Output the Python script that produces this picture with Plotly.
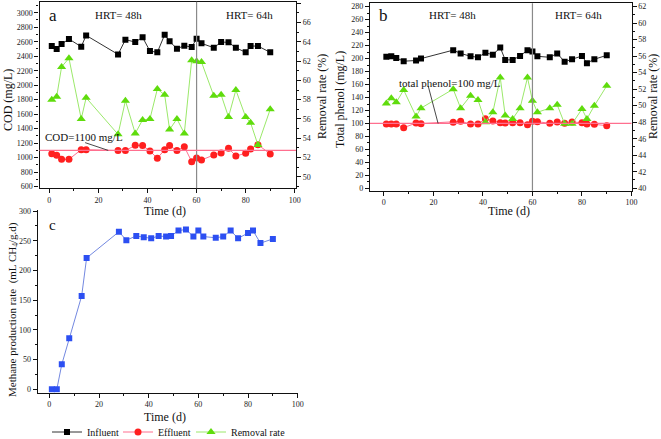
import plotly.graph_objects as go

# ---------------- data ----------------
days = [1, 3, 5, 8, 13, 15, 28, 31, 35, 38, 41, 44, 47, 49, 52, 55, 58, 60, 62,
        67, 70, 73, 76, 80, 82, 85, 90]

cod_influent = [2540, 2500, 2568, 2637, 2531, 2687, 2425, 2628, 2595, 2660, 2471,
                2453, 2697, 2605, 2503, 2545, 2526, 2641, 2577, 2517, 2595, 2591,
                2517, 2453, 2540, 2540, 2453]
cod_effluent = [1055, 1032, 977, 977, 1110, 1110, 1097, 1097, 1170, 1166, 1092,
                991, 1110, 1166, 1097, 1152, 945, 995, 968, 1037, 1064, 1129,
                1023, 1060, 1120, 1179, 1050]
cod_removal = [58.0, 58.3, 61.4, 62.3, 56.0, 58.2, 54.4, 57.9, 54.5, 55.9, 56.0,
               59.1, 58.5, 54.9, 56.0, 54.5, 62.1, 62.0, 61.9, 58.4, 58.5, 56.2,
               59.0, 56.2, 55.6, 53.3, 57.0]

ph_influent = [203, 203.5, 201, 196, 197, 200, 213, 208, 203.5, 202, 209, 206,
               217, 198, 198, 204, 213, 211, 203.5, 202, 208, 195, 199, 204, 193,
               199, 205]
ph_effluent = [99, 99, 99, 93.5, 100.7, 99.7, 101.7, 103.3, 99, 99, 107.4, 103.8,
               101.2, 100.7, 101.2, 101.2, 98.2, 103.3, 102.8, 100.2, 102.3, 100.2,
               102.3, 101.2, 99.2, 98.7, 96.6]
ph_removal = [50.25, 50.9, 50.4, 51.9, 48.7, 49.7, 52.0, 49.7, 51.2, 50.7, 48.0,
              49.2, 53.4, 48.8, 48.4, 49.7, 53.4, 50.6, 49.2, 49.7, 50.1, 47.8,
              47.8, 49.6, 48.4, 50.0, 52.4]

methane = [0, 0, 42, 86, 157, 221, 265, 251, 258, 256, 254, 258, 257, 258, 267,
           269, 257, 267, 257, 255, 257, 267, 254, 263, 267, 246, 253]

cod_target = 1100
phenol_target = 100
hrt_switch_day = 60

W, H = 661, 439
FONT = "Liberation Serif"


def px(x):
    return x / W


def py(y):
    return 1 - y / H


fig = go.Figure()

inf_style = dict(mode="lines+markers", line=dict(color="#333333", width=1),
                 marker=dict(symbol="square", size=6, color="#000000"))
eff_style = dict(mode="lines+markers", line=dict(color="#ff6f8f", width=1),
                 marker=dict(symbol="circle", size=7, color="#ff1f1f"))
rem_style = dict(mode="lines+markers", line=dict(color="#9be86a", width=1),
                 marker=dict(symbol="triangle-up", size=8, color="#5fdc0c"))

# panel a
fig.add_trace(go.Scatter(x=days, y=cod_influent, name="Influent", xaxis="x", yaxis="y",
                         legendwidth=26, **inf_style))
fig.add_trace(go.Scatter(x=days, y=cod_effluent, name="Effluent", xaxis="x", yaxis="y",
                         legendwidth=28, **eff_style))
fig.add_trace(go.Scatter(x=days, y=cod_removal, name="Removal rate", xaxis="x", yaxis="y2",
                         **rem_style))
# panel b
fig.add_trace(go.Scatter(x=days, y=ph_influent, showlegend=False, xaxis="x2", yaxis="y3", **inf_style))
fig.add_trace(go.Scatter(x=days, y=ph_effluent, showlegend=False, xaxis="x2", yaxis="y3", **eff_style))
fig.add_trace(go.Scatter(x=days, y=ph_removal, showlegend=False, xaxis="x2", yaxis="y4", **rem_style))
# panel c
fig.add_trace(go.Scatter(x=days, y=methane, showlegend=False, xaxis="x3", yaxis="y5",
                         mode="lines+markers", line=dict(color="#7388e0", width=1),
                         marker=dict(symbol="square", size=6, color="#2c4ff2")))

tickfont = dict(family=FONT, size=8, color="#222")
common = dict(showline=True, linecolor="#111", linewidth=1.2, ticks="outside",
              ticklen=4, tickwidth=1, tickcolor="#111", showgrid=False,
              zeroline=False, tickfont=tickfont, automargin=False)


def minor(dt):
    return dict(ticks="outside", ticklen=2, tickcolor="#111", dtick=dt, showgrid=False)


fig.update_layout(
    template="none",
    width=W, height=H, margin=dict(l=0, r=0, t=0, b=0, autoexpand=False),
    paper_bgcolor="white", plot_bgcolor="white",
    font=dict(family=FONT, color="#111"),
    xaxis=dict(domain=[px(39.5), px(296)], range=[-4, 100.5], anchor="y",
               tick0=0, dtick=20, mirror=True, minor=minor(10), **common),
    yaxis=dict(domain=[py(188.3), py(1.7)], range=[577, 3152], anchor="x",
               tick0=600, dtick=200, minor=minor(100), **common),
    yaxis2=dict(overlaying="y", side="right", anchor="x", range=[48.8, 68.17],
                tick0=50, dtick=2, minor=minor(1), **common),
    xaxis2=dict(domain=[px(370), px(631.5)], range=[-5.6, 100], anchor="y3",
                tick0=0, dtick=20, mirror=True, minor=minor(10), **common),
    yaxis3=dict(domain=[py(190.7), py(3.3)], range=[-3.6, 285.2], anchor="x2",
                tick0=0, dtick=20, minor=minor(10), **common),
    yaxis4=dict(overlaying="y3", side="right", anchor="x2", range=[39.7, 62.4],
                tick0=40, dtick=2, minor=minor(1), **common),
    xaxis3=dict(domain=[px(37.7), px(297.7)], range=[-4.7, 100], anchor="y5",
                tick0=0, dtick=20, minor=minor(10), **common),
    yaxis5=dict(domain=[py(392.7), py(210)], range=[-5.7, 301.7], anchor="x3",
                tick0=0, dtick=50, minor=minor(25), **common),
    legend=dict(orientation="h", x=px(47), y=py(432), xanchor="left", yanchor="middle",
                font=dict(family=FONT, size=10, color="#111"), bgcolor="rgba(0,0,0,0)",
                itemwidth=30, tracegroupgap=0),
    showlegend=True,
)

shapes = [
    dict(type="line", xref="x", yref="y domain", x0=hrt_switch_day, x1=hrt_switch_day,
         y0=0, y1=1, line=dict(color="#8a8a8a", width=1.2)),
    dict(type="line", xref="x2", yref="y3 domain", x0=hrt_switch_day, x1=hrt_switch_day,
         y0=0, y1=1, line=dict(color="#8a8a8a", width=1.2)),
    dict(type="line", xref="x domain", yref="y", x0=0, x1=1, y0=cod_target, y1=cod_target,
         line=dict(color="#ff6f8f", width=1.2)),
    dict(type="line", xref="x2 domain", yref="y3", x0=0, x1=1, y0=phenol_target,
         y1=phenol_target, line=dict(color="#ff6f8f", width=1.2)),
    # leader lines of the target labels
    dict(type="line", xref="x", yref="y", x0=14.6, y0=1207, x1=24, y1=cod_target,
         line=dict(color="#333", width=0.9)),
    dict(type="line", xref="x2", yref="y3", x0=17.9, y0=157.8, x1=21.9, y1=phenol_target,
         line=dict(color="#333", width=0.9)),
]
fig.update_layout(shapes=shapes)

ann = []


def text(x, y, t, size=11, angle=0):
    ann.append(dict(x=px(x), y=py(y), xref="paper", yref="paper", text=t, showarrow=False,
                    textangle=angle, font=dict(family=FONT, size=size, color="#111"),
                    xanchor="center", yanchor="middle"))


text(52.5, 16, "a", 17)
text(383.5, 16, "b", 17)
text(52.5, 225, "c", 15)
text(118, 15, "HRT= 48h", 11)
text(249, 15, "HRT= 64h", 11)
text(452, 15, "HRT= 48h", 11)
text(578, 15, "HRT= 64h", 11)
text(83.5, 137, "COD=1100 mg/L", 11)
text(450, 83, "total phenol=100 mg/L", 11)
text(8, 100, "COD (mg/L)", 12, -90)
text(322, 97, "Removal rate (%)", 12, -90)
text(340, 100, "Total phenol (mg/L)", 12, -90)
text(653, 97, "Removal rate (%)", 12, -90)
text(13, 310, "Methane production rate  (mL CH<sub>4</sub>/g.d)", 11, -90)
text(165, 211, "Time (d)", 12)
text(509, 211, "Time (d)", 12)
text(165, 417, "Time (d)", 12)

fig.update_layout(annotations=ann)

fig.write_html(
    "out.html",
    config={"displayModeBar": False},
    post_script="document.body.style.margin='0';document.body.style.overflow='hidden';",
)
